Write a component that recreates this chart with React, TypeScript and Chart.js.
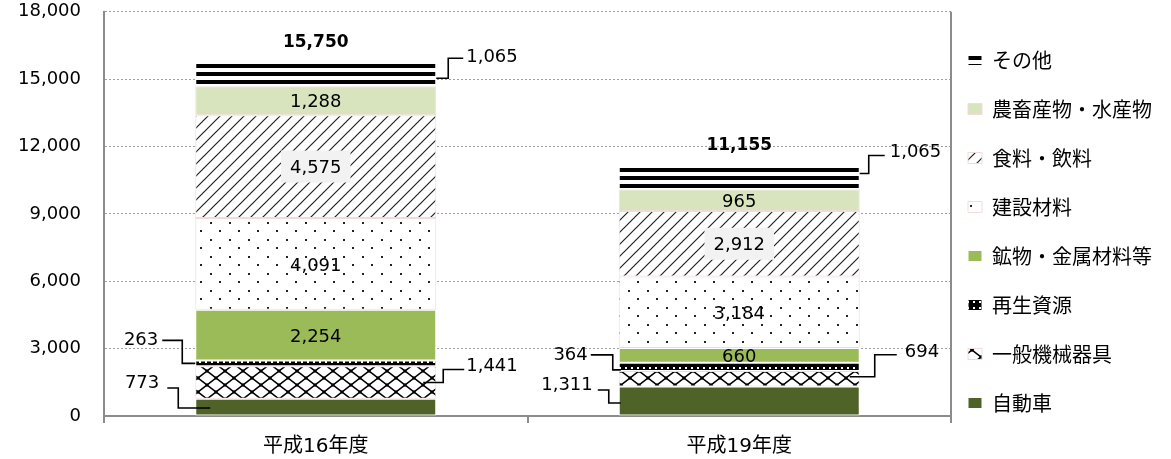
import React, { useEffect, useRef } from 'react';
import { Chart, registerables } from 'chart.js';

Chart.register(...registerables);

// ---------- data ----------
const CATEGORIES = ['平成16年度', '平成19年度'];
const SERIES_NAMES = [
  '自動車',
  '一般機械器具',
  '再生資源',
  '鉱物・金属材料等',
  '建設材料',
  '食料・飲料',
  '農畜産物・水産物',
  'その他',
];
const JIDOSHA = [773, 1311];
const IPPAN_KIKAI = [1441, 694];
const SAISEI_SHIGEN = [263, 364];
const KOBUTSU_KINZOKU = [2254, 660];
const KENSETSU_ZAIRYO = [4091, 3184];
const SHOKURYO_INRYO = [4575, 2912];
const NOCHIKUSAN = [1288, 965];
const SONOTA = [1065, 1065];
const Y_MIN = 0;
const Y_MAX = 18000;
const Y_STEP = 3000;

// ---------- styles ----------
const NUM_FONT = "'DejaVu Sans'";
const JP_FONT = "'Noto Sans CJK JP'";
const AXIS_COLOR = '#8c8c8c';
const PINK = '#f2dcdb';

// label placement per series: center / box / left / right leader
const LABEL_MODE = ['left', 'right', 'left', 'center', 'center', 'box', 'center', 'right'];

type Leader = {
  inset: number; anchorDy: number; elbow: number; dy: number;
  lineEnd: number; textX: number; textDy: number;
};
const LEADERS: Record<string, Leader> = {
  '7-0': { inset: 0, anchorDy: 4, elbow: 12, dy: -20, lineEnd: 27, textX: 30, textDy: -1 },
  '2-0': { inset: 0, anchorDy: 0, elbow: 13, dy: -23, lineEnd: 33, textX: 37, textDy: 0 },
  '0-0': { inset: 15, anchorDy: 1, elbow: 17, dy: -20, lineEnd: 28, textX: 36, textDy: -5 },
  '1-0': { inset: 13, anchorDy: 0, elbow: 7, dy: -13, lineEnd: 28, textX: 30, textDy: -3 },
  '7-1': { inset: 0, anchorDy: -4, elbow: 9, dy: -18, lineEnd: 25, textX: 30, textDy: -3 },
  '2-1': { inset: 2, anchorDy: 3, elbow: 6, dy: -15, lineEnd: 28, textX: 31, textDy: 0 },
  '0-1': { inset: 2, anchorDy: 2, elbow: 10, dy: -13, lineEnd: 21, textX: 26, textDy: -5 },
  '1-1': { inset: 10, anchorDy: -2, elbow: 15, dy: -22, lineEnd: 37, textX: 45, textDy: -2 },
};

const fmt = (v: number) => v.toLocaleString('en-US');

function makePattern(w: number, h: number, draw: (c: CanvasRenderingContext2D) => void) {
  const cv = document.createElement('canvas');
  cv.width = w;
  cv.height = h;
  const c = cv.getContext('2d')!;
  draw(c);
  return c.createPattern(cv, 'repeat')!;
}

// right-hand frame of the plot area + slight legend shift toward the plot
const framePlugin = {
  id: 'plotFrame',
  afterLayout(chart: any) {
    const lg = chart.legend;
    if (lg) {
      lg.left -= 12;
      lg.width += 12;
    }
  },
  beforeDatasetsDraw(chart: any) {
    const { ctx, chartArea } = chart;
    ctx.save();
    ctx.strokeStyle = AXIS_COLOR;
    ctx.lineWidth = 2;
    ctx.beginPath();
    ctx.moveTo(Math.round(chartArea.right), chartArea.top);
    ctx.lineTo(Math.round(chartArea.right), chartArea.bottom);
    ctx.stroke();
    ctx.restore();
  },
};

const labelPlugin = {
  id: 'segmentLabels',
  afterDatasetsDraw(chart: any) {
    const ctx: CanvasRenderingContext2D = chart.ctx;
    ctx.save();
    ctx.font = `18px ${NUM_FONT}`;
    ctx.fillStyle = '#000';
    ctx.strokeStyle = '#000';
    ctx.lineWidth = 1.6;
    chart.data.datasets.forEach((ds: any, di: number) => {
      const meta = chart.getDatasetMeta(di);
      meta.data.forEach((el: any, i: number) => {
        const { x, y, base, width } = el.getProps(['x', 'y', 'base', 'width'], true);
        const text = fmt(ds.data[i]);
        const mode = LABEL_MODE[di];
        const cy = (y + base) / 2;
        if (mode === 'center' || mode === 'box') {
          ctx.textAlign = 'center';
          ctx.textBaseline = 'middle';
          if (mode === 'box') {
            const tw = ctx.measureText(text).width;
            ctx.fillStyle = '#f2f2f2';
            ctx.fillRect(x - tw / 2 - 9, cy - 16, tw + 18, 32);
            ctx.fillStyle = '#000';
          }
          ctx.fillText(text, x, cy + 2);
        } else {
          const g = LEADERS[`${di}-${i}`];
          if (!g) return;
          const dir = mode === 'right' ? 1 : -1;
          const edge = x + (dir * width) / 2;
          const ax = edge - dir * g.inset;
          const ay = cy + g.anchorDy;
          const ly = ay + g.dy;
          ctx.beginPath();
          ctx.moveTo(ax, ay);
          ctx.lineTo(edge + dir * g.elbow, ay);
          ctx.lineTo(edge + dir * g.elbow, ly);
          ctx.lineTo(edge + dir * g.lineEnd, ly);
          ctx.stroke();
          ctx.textAlign = dir === 1 ? 'left' : 'right';
          ctx.textBaseline = 'middle';
          ctx.fillText(text, edge + dir * g.textX, ly + g.textDy);
        }
      });
    });
    // totals
    const n = chart.data.datasets.length;
    const topMeta = chart.getDatasetMeta(n - 1);
    ctx.font = `bold 17px ${NUM_FONT}`;
    ctx.textAlign = 'center';
    ctx.textBaseline = 'middle';
    topMeta.data.forEach((el: any, i: number) => {
      const { x, y } = el.getProps(['x', 'y'], true);
      let total = 0;
      chart.data.datasets.forEach((ds: any) => { total += ds.data[i]; });
      ctx.fillText(fmt(total), x, y - 20);
    });
    ctx.restore();
  },
};

export default function App() {
  const ref = useRef<HTMLCanvasElement>(null);

  useEffect(() => {
    document.body.style.margin = '0';
    const canvas = ref.current!;

    const pStripes = makePattern(4, 8, (c) => {
      c.fillStyle = '#fff'; c.fillRect(0, 0, 4, 8);
      c.fillStyle = '#000'; c.fillRect(0, 0, 4, 4);
    });
    const pDiag = makePattern(12, 12, (c) => {
      c.fillStyle = '#fff'; c.fillRect(0, 0, 12, 12);
      c.strokeStyle = '#222'; c.lineWidth = 1.2;
      c.beginPath();
      c.moveTo(-1, 13); c.lineTo(13, -1);
      c.moveTo(-1, 1); c.lineTo(1, -1);
      c.moveTo(11, 13); c.lineTo(13, 11);
      c.stroke();
    });
    const pDots = makePattern(19, 17, (c) => {
      c.fillStyle = '#fff'; c.fillRect(0, 0, 19, 17);
      c.fillStyle = '#222';
      c.fillRect(1, 1, 2, 2);
      c.fillRect(10, 9, 2, 2);
    });
    const pCross = makePattern(18, 14, (c) => {
      c.fillStyle = '#fff'; c.fillRect(0, 0, 18, 14);
      c.strokeStyle = '#000'; c.lineWidth = 1.5;
      c.beginPath();
      c.moveTo(0, 0); c.lineTo(18, 14);
      c.moveTo(0, 14); c.lineTo(18, 0);
      c.stroke();
      c.fillStyle = '#000';
      c.fillRect(7.5, 5.5, 3, 3);
      c.fillRect(-1.5, -1.5, 3, 3); c.fillRect(16.5, -1.5, 3, 3);
      c.fillRect(-1.5, 12.5, 3, 3); c.fillRect(16.5, 12.5, 3, 3);
    });
    const pRecycle = makePattern(6, 6, (c) => {
      c.fillStyle = '#000'; c.fillRect(0, 0, 6, 6);
      c.fillStyle = '#fff';
      c.fillRect(1, 1, 2, 2);
    });

    const seriesData = [JIDOSHA, IPPAN_KIKAI, SAISEI_SHIGEN, KOBUTSU_KINZOKU, KENSETSU_ZAIRYO, SHOKURYO_INRYO, NOCHIKUSAN, SONOTA];
    const fills: any[] = ['#4f6228', pCross, pRecycle, '#9bbb59', pDots, pDiag, '#d7e4bd', pStripes];
    const borders = ['#ffffff', PINK, '#ffffff', '#ffffff', PINK, PINK, PINK, '#ffffff'];

    const chart = new Chart(canvas, {
      type: 'bar',
      data: {
        labels: CATEGORIES,
        datasets: seriesData.map((d, k) => ({
          label: SERIES_NAMES[k],
          data: d,
          backgroundColor: fills[k],
          borderColor: borders[k],
          borderWidth: 1,
          borderSkipped: false,
          barPercentage: 0.569,
          categoryPercentage: 1,
        })),
      },
      options: {
        responsive: false,
        animation: false,
        events: [],
        locale: 'en-US',
        layout: { padding: { top: 4, bottom: 0, left: 0, right: -3 } },
        plugins: {
          legend: {
            position: 'right',
            align: 'center',
            reverse: true,
            labels: {
              boxWidth: 14,
              boxHeight: 11,
              padding: 29,
              color: '#000',
              font: { family: JP_FONT, size: 20 },
            },
          },
          tooltip: { enabled: false },
        },
        scales: {
          x: {
            stacked: true,
            grid: {
              display: true,
              drawOnChartArea: false,
              drawTicks: true,
              tickLength: 7,
              offset: true,
              color: AXIS_COLOR,
              lineWidth: 2,
            },
            border: { display: true, color: AXIS_COLOR, width: 2 },
            ticks: { padding: 12, color: '#000', font: { family: `${NUM_FONT}, ${JP_FONT}`, size: 20 } },
            afterFit: (s: any) => { s.height = 43; },
          },
          y: {
            stacked: true,
            min: Y_MIN,
            max: Y_MAX,
            ticks: { stepSize: Y_STEP, padding: 1, color: '#000', font: { family: NUM_FONT, size: 18 } },
            grid: {
              color: '#a0a0a0',
              lineWidth: 1,
              drawTicks: true,
              tickLength: 22,
              tickColor: 'rgba(0,0,0,0)',
            },
            border: { display: true, color: AXIS_COLOR, width: 2, dash: [2, 2] },
            afterFit: (s: any) => { s.width = 104; },
          },
        },
      } as any,
      plugins: [framePlugin, labelPlugin],
    });

    return () => chart.destroy();
  }, []);

  return (
    <div style={{ width: 1171, height: 459 }}>
      <canvas ref={ref} width={1171} height={459} style={{ display: 'block' }} />
    </div>
  );
}
